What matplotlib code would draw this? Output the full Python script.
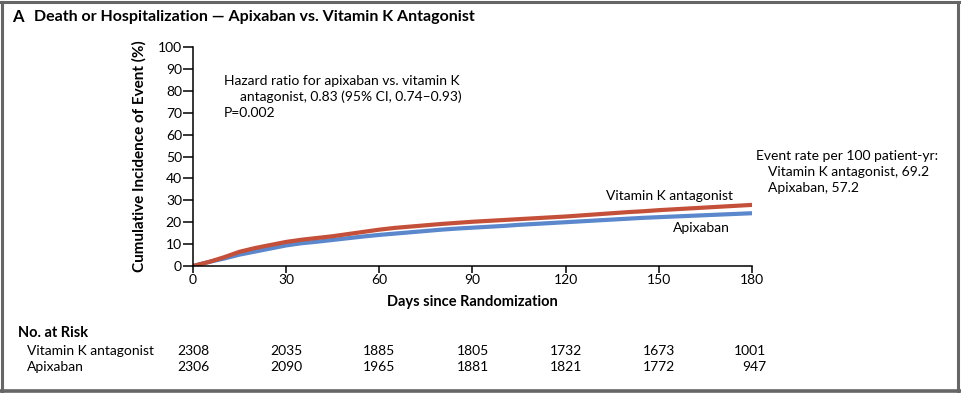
import matplotlib
matplotlib.use("Agg")
import matplotlib.pyplot as plt
from matplotlib.lines import Line2D

plt.rcParams['font.family'] = ['Lato', 'DejaVu Sans']

days = [0, 5, 10, 15, 20, 25, 30, 35, 40, 45, 50, 55, 60, 65, 70, 75, 80, 85, 90,
        95, 100, 105, 110, 115, 120, 125, 130, 135, 140, 145, 150, 155, 160, 165,
        170, 175, 180]
vka = [0, 1.8, 4.0, 6.5, 8.2, 9.6, 11.0, 12.0, 12.8, 13.6, 14.6, 15.6, 16.6, 17.4,
       18.0, 18.6, 19.2, 19.7, 20.2, 20.6, 21.0, 21.4, 21.8, 22.2, 22.6, 23.1, 23.6,
       24.1, 24.6, 25.0, 25.5, 25.9, 26.3, 26.7, 27.1, 27.5, 27.9]
apix = [0, 1.8, 3.4, 5.2, 6.6, 8.0, 9.4, 10.4, 11.1, 11.9, 12.7, 13.5, 14.2, 14.8,
        15.4, 16.0, 16.6, 17.1, 17.5, 17.9, 18.3, 18.8, 19.2, 19.6, 20.0, 20.4, 20.8,
        21.2, 21.6, 22.0, 22.3, 22.6, 22.9, 23.2, 23.5, 23.8, 24.1]

risk_days = [0, 30, 60, 90, 120, 150, 180]
risk_vka = [2308, 2035, 1885, 1805, 1732, 1673, 1001]
risk_apix = [2306, 2090, 1965, 1881, 1821, 1772, 947]

red = '#c4503a'
blue = '#5b87cc'
W, H = 962, 393

fig = plt.figure(figsize=(9.62, 3.93), dpi=100)
ax = fig.add_axes([193 / W, 1 - 266 / H, (752 - 193) / W, (266 - 47) / H])

ax.plot(days, apix, color=blue, lw=3, solid_capstyle='butt')
ax.plot(days, vka, color=red, lw=3, solid_capstyle='butt')

ax.set_xlim(0, 180)
ax.set_ylim(0, 100)
ax.set_xticks(risk_days)
ax.set_yticks(range(0, 101, 10))
for s in ['top', 'right']:
    ax.spines[s].set_visible(False)
for s in ['left', 'bottom']:
    ax.spines[s].set_linewidth(1.1)
ax.tick_params(direction='out', length=5, width=1.1, labelsize=10, pad=1)
ax.tick_params(axis='y', length=7)
ax.set_xlabel('Days since Randomization', fontsize=10.5, fontweight='bold', labelpad=6)
ax.set_ylabel('Cumulative Incidence of Event (%)', fontsize=11, fontweight='bold', labelpad=8)

ax.text(10, 84.5, 'Hazard ratio for apixaban vs. vitamin K', fontsize=10, va='center')
ax.text(15, 77.2, 'antagonist, 0.83 (95% CI, 0.74\u20130.93)', fontsize=10, va='center')
ax.text(10, 69.9, 'P=0.002', fontsize=10, va='center')
ax.text(174, 32, 'Vitamin K antagonist', fontsize=10, ha='right', va='center')
ax.text(173, 17.5, 'Apixaban', fontsize=10, ha='right', va='center')

fig.text(756 / W, 1 - 156 / H, 'Event rate per 100 patient-yr:', fontsize=10, va='center')
fig.text(768 / W, 1 - 172 / H, 'Vitamin K antagonist, 69.2', fontsize=10, va='center')
fig.text(768 / W, 1 - 188 / H, 'Apixaban, 57.2', fontsize=10, va='center')

fig.text(12 / W, 1 - 17 / H, 'A', fontsize=12, fontweight='bold', va='center')
fig.text(34 / W, 1 - 17 / H, 'Death or Hospitalization \u2014 Apixaban vs. Vitamin K Antagonist',
         fontsize=11.5, fontweight='bold', va='center')

# number at risk table
fig.text(18 / W, 1 - 333 / H, 'No. at Risk', fontsize=10.5, fontweight='bold', va='center')
fig.text(27 / W, 1 - 351 / H, 'Vitamin K antagonist', fontsize=10, va='center')
fig.text(27 / W, 1 - 367 / H, 'Apixaban', fontsize=10, va='center')
trans = ax.get_xaxis_transform()
y1 = (266 - 351) / (266 - 47)
y2 = (266 - 367) / (266 - 47)
for i, d in enumerate(risk_days):
    if i == len(risk_days) - 1:
        x, ha = 184.5, 'right'
    else:
        x, ha = d, 'center'
    ax.text(x, y1, str(risk_vka[i]), transform=trans, fontsize=10, ha=ha, va='center', clip_on=False)
    ax.text(x, y2, str(risk_apix[i]), transform=trans, fontsize=10, ha=ha, va='center', clip_on=False)

# outer frame
grey = '#666666'
fig.add_artist(Line2D([2 / W, 2 / W], [0, 1 - 2 / H], color=grey, lw=2.2, transform=fig.transFigure))
fig.add_artist(Line2D([958.5 / W, 958.5 / W], [0, 1 - 2 / H], color=grey, lw=2.2, transform=fig.transFigure))
fig.add_artist(Line2D([1 / W, 960 / W], [1 - 2 / H, 1 - 2 / H], color=grey, lw=2.2, transform=fig.transFigure))
fig.add_artist(Line2D([0, 1], [1 - 390.5 / H, 1 - 390.5 / H], color=grey, lw=2.6, transform=fig.transFigure))

fig.savefig('out.png', dpi=100)
